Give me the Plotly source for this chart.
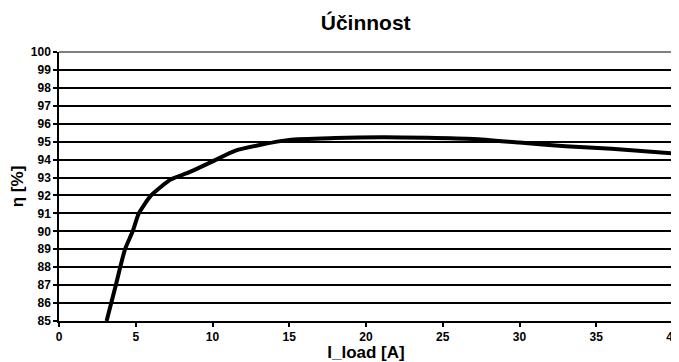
import plotly.graph_objects as go

i_load = [3.1, 3.7, 4.3, 4.8, 5.2, 6.0, 7.3, 8.5, 10.0, 11.5, 13.0, 15.0, 18.0, 21.0, 24.0, 27.0, 30.0, 33.0, 36.0, 40.0]
eta = [85.0, 87.0, 89.0, 90.0, 91.0, 92.0, 92.9, 93.3, 93.9, 94.5, 94.8, 95.1, 95.2, 95.25, 95.22, 95.15, 94.95, 94.75, 94.6, 94.35]

x_ticks = [0, 5, 10, 15, 20, 25, 30, 35, 40]
y_ticks = list(range(85, 101))

font_family = "Liberation Sans, Arial, sans-serif"

fig = go.Figure()
fig.add_trace(go.Scatter(
    x=i_load, y=eta, mode="lines",
    line=dict(color="black", width=4, shape="spline", smoothing=0.6),
    showlegend=False, cliponaxis=True,
))

# The page body has an 8px margin, so the figure is sized to fit the window.
fig.update_layout(
    width=671, height=354,
    margin=dict(l=51, r=6, t=44, b=41),
    paper_bgcolor="white", plot_bgcolor="white",
    title=dict(text="Účinnost", x=0.533, xanchor="center", y=0.96, yref="container", yanchor="middle",
               font=dict(family=font_family, size=21, color="black", weight="bold")),
    xaxis=dict(
        range=[0, 40], tickvals=x_ticks, ticktext=[str(v) for v in x_ticks],
        showgrid=False, zeroline=False, automargin=False, ticklabeloverflow="allow",
        showline=True, linecolor="black", linewidth=1.5,
        ticks="outside", ticklen=4, tickcolor="black", tickwidth=1.5,
        tickfont=dict(family=font_family, size=12, color="black", weight="bold"),
        title=dict(text="I_load [A]", standoff=0,
                   font=dict(family=font_family, size=17, color="black", weight="bold")),
    ),
    yaxis=dict(
        range=[85, 100], tickvals=y_ticks, ticktext=[str(v) for v in y_ticks],
        showgrid=True, gridcolor="black", gridwidth=1.5, zeroline=False, automargin=False,
        ticklabeloverflow="allow",
        showline=True, linecolor="black", linewidth=1.5,
        ticks="outside", ticklen=4, tickcolor="black", tickwidth=1.5,
        tickfont=dict(family=font_family, size=12, color="black", weight="bold"),
        title=dict(text="η [%]", standoff=4,
                   font=dict(family=font_family, size=17, color="black", weight="bold")),
    ),
    shapes=[
        dict(type="line", xref="paper", yref="paper", x0=0, x1=1, y0=1, y1=1,
             line=dict(color="#808080", width=2)),
        dict(type="line", xref="paper", yref="paper", x0=1, x1=1, y0=0, y1=1,
             line=dict(color="#808080", width=2)),
    ],
)

fig.write_html("out.html")
